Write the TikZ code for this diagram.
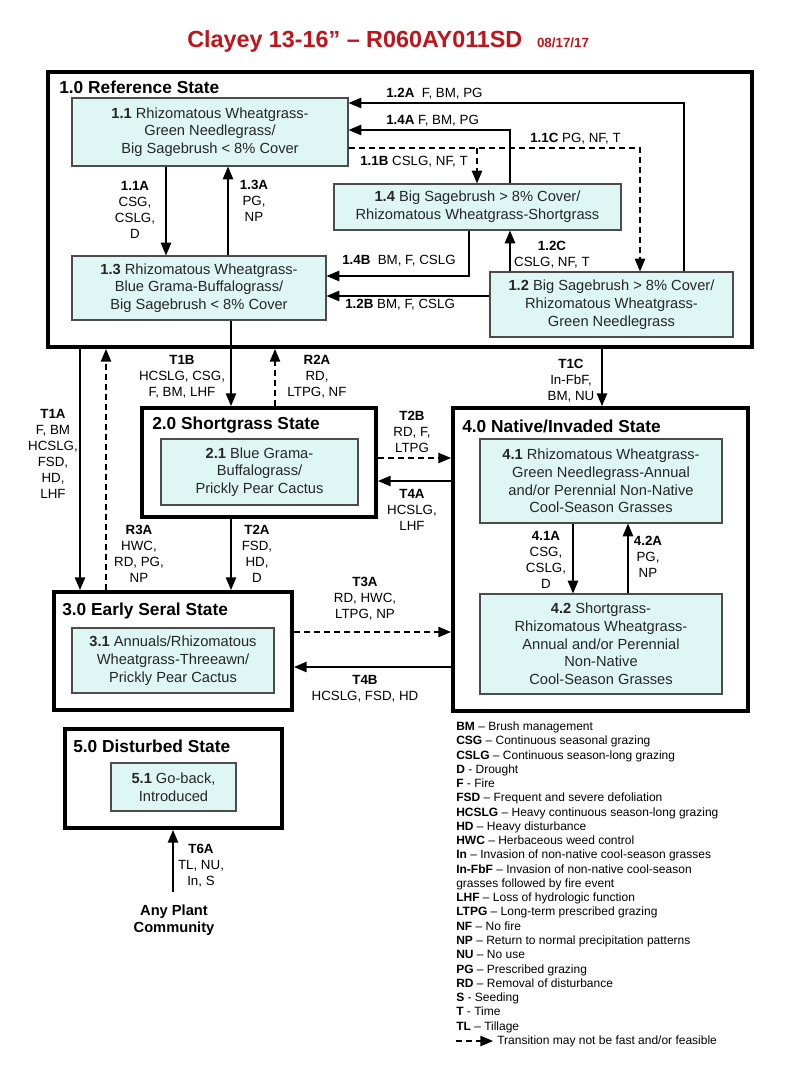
\documentclass[tikz,border=0pt]{standalone}
\usepackage{fontspec}
\setsansfont{Liberation Sans}
\usetikzlibrary{arrows}
\definecolor{commfill}{RGB}{222,247,244}
\definecolor{titlered}{RGB}{192,20,28}
\tikzset{every picture/.style={/utils/exec={\sffamily}}}
\tikzset{state/.style={draw,line width=3pt,inner sep=0pt}}
\tikzset{comm/.style={draw=black!70,fill=commfill,line width=0.9pt,align=center,inner sep=0pt,text=black!85,font=\fontsize{11}{13.3}\selectfont}}
\tikzset{statename/.style={anchor=west,inner sep=0pt,font=\fontsize{13}{15}\selectfont\bfseries}}
\tikzset{lab/.style={align=center,inner sep=0pt,font=\fontsize{10}{12}\selectfont}}
\tikzset{trans/.style={-triangle 45,line width=1.2pt}}
\tikzset{risky/.style={trans,dash pattern=on 4.5pt off 3pt}}

\begin{document}
\begin{tikzpicture}[x=0.75pt,y=-0.75pt]
    \fill[white] (0,0) rectangle (800,1067);
    \node[anchor=base west,inner sep=0pt,text=titlered,font=\bfseries] (head) at (187,47)
        {\fontsize{17.5}{20}\selectfont Clayey 13-16” – R060AY011SD\hspace{11pt}\fontsize{10}{12}\selectfont 08/17/17};
    % states
    \node[state,minimum width=528pt,minimum height=206.25pt] (S1) at (400,209.5) {};
    \node[state,minimum width=175.5pt,minimum height=81.75pt] (S2) at (259,462.5) {};
    \node[state,minimum width=178.5pt,minimum height=88.5pt] (S3) at (173,651) {};
    \node[state,minimum width=221.25pt,minimum height=227.25pt] (S4) at (600.5,559.5) {};
    \node[state,minimum width=162.75pt,minimum height=74.25pt] (S5) at (173.5,778.5) {};
    \node[statename] at (59,87) {1.0 Reference State};
    \node[statename] at (152,425) {2.0 Shortgrass State};
    \node[statename] at (62,611) {3.0 Early Seral State};
    \node[statename] at (462,426) {4.0 Native/Invaded State};
    \node[statename] at (73,746) {5.0 Disturbed State};
    % communities
    \node[comm,minimum width=207pt,minimum height=51pt] (s11) at (210,132)
        {\textbf{1.1} Rhizomatous Wheatgrass-\\Green Needlegrass/\\Big Sagebrush < 8\% Cover};
    \node[comm,minimum width=190.5pt,minimum height=48pt] (s13) at (199,288)
        {\textbf{1.3} Rhizomatous Wheatgrass-\\Blue Grama-Buffalograss/\\Big Sagebrush < 8\% Cover};
    \node[comm,minimum width=215.25pt,minimum height=34.5pt] (s14) at (477.5,207)
        {\textbf{1.4} Big Sagebrush > 8\% Cover/\\Rhizomatous Wheatgrass-Shortgrass};
    \node[comm,minimum width=182.25pt,minimum height=48.75pt] (s12) at (611.5,304.5)
        {\textbf{1.2} Big Sagebrush > 8\% Cover/\\Rhizomatous Wheatgrass-\\Green Needlegrass};
    \node[comm,minimum width=147.75pt,minimum height=49.5pt] (s21) at (259.5,472)
        {\textbf{2.1} Blue Grama-\\Buffalograss/\\Prickly Pear Cactus};
    \node[comm,minimum width=181.5pt,minimum height=63pt] (s41) at (601,481)
        {\textbf{4.1} Rhizomatous Wheatgrass-\\Green Needlegrass-Annual\\and/or Perennial Non-Native\\Cool-Season Grasses};
    \node[comm,minimum width=181.5pt,minimum height=75pt] (s42) at (601,644)
        {\textbf{4.2} Shortgrass-\\Rhizomatous Wheatgrass-\\Annual and/or Perennial\\Non-Native\\Cool-Season Grasses};
    \node[comm,minimum width=151.5pt,minimum height=48.75pt] (s31) at (173,660.5)
        {\textbf{3.1} Annuals/Rhizomatous\\Wheatgrass-Threeawn/\\Prickly Pear Cactus};
    \node[comm,minimum width=93.75pt,minimum height=36pt] (s51) at (173.5,787)
        {\textbf{5.1} Go-back,\\Introduced};
    \node[align=center,inner sep=0pt,font=\fontsize{11}{13}\selectfont\bfseries] (any) at (174,920) {Any Plant\\Community};
    % bend points
    \coordinate (k12A) at (684,103);
    \coordinate (k14A) at (510,130);
    \coordinate (k11C) at (640,148);
    \coordinate (k11B) at (477,148);
    \coordinate (k11A) at (166,200);
    \coordinate (k13A) at (228,200);
    \coordinate (k14B) at (469,276);
    \coordinate (k12B) at (480,296);
    \coordinate (kT1A) at (80,450);
    \coordinate (kR3A) at (106,450);
    \coordinate (kT1B) at (231,380);
    \coordinate (kR2A) at (275,380);
    \coordinate (kT1C) at (602,380);
    \coordinate (kT2B) at (410,458);
    \coordinate (kT4A) at (410,481);
    \coordinate (kT3A) at (370,632);
    \coordinate (kT4B) at (370,667);
    \coordinate (k41A) at (573,560);
    \coordinate (k42A) at (628,560);
    \coordinate (kT6A) at (173,892);
    % transitions in 1.0
    \draw[trans] (s12.north -| k12A) |- (s11.east |- k12A);
    \draw[trans] (s14.north -| k14A) |- (s11.east |- k14A);
    \draw[risky] (s11.east |- k11C) -| (s12.north -| k11C);
    \draw[risky] (k11B) -- (s14.north -| k11B);
    \draw[trans] (s11.south -| k11A) -- (s13.north -| k11A);
    \draw[trans] (s13.north -| k13A) -- (s11.south -| k13A);
    \draw[trans] (s14.south -| k14B) |- (s13.east |- k14B);
    \draw[trans] (s12.west |- k12B) -- (s13.east |- k12B);
    \draw[trans] (s12.north -| k14A) -- (s14.south -| k14A);
    \node[lab,anchor=west] at (386,94) {\textbf{1.2A}\ \ F, BM, PG};
    \node[lab,anchor=west] at (386,121) {\textbf{1.4A} F, BM, PG};
    \node[lab,anchor=west] at (530,139) {\textbf{1.1C} PG, NF, T};
    \node[lab,anchor=east] at (468,162) {\textbf{1.1B} CSLG, NF, T};
    \node[lab] at (135,209.5) {\textbf{1.1A}\\CSG,\\CSLG,\\D};
    \node[lab] at (254,201) {\textbf{1.3A}\\PG,\\NP};
    \node[lab,anchor=west] at (342,261) {\textbf{1.4B}\ \ BM, F, CSLG};
    \node[lab,anchor=west] at (345,305) {\textbf{1.2B} BM, F, CSLG};
    \node[lab] at (552,255) {\textbf{1.2C}\\CSLG, NF, T};
    % transitions between states
    \draw[trans] (S1.south -| kT1A) -- (S3.north -| kT1A);
    \draw[risky] (S3.north -| kR3A) -- (S1.south -| kR3A);
    \draw[trans] (s13.south -| kT1B) -- (S2.north -| kT1B);
    \draw[risky] (S2.north -| kR2A) -- (S1.south -| kR2A);
    \draw[trans] (S1.south -| kT1C) -- (S4.north -| kT1C);
    \draw[risky] (S2.east |- kT2B) -- (S4.west |- kT2B);
    \draw[trans] (S4.west |- kT4A) -- (S2.east |- kT4A);
    \draw[trans] (S2.south -| kT1B) -- (S3.north -| kT1B);
    \draw[risky] (S3.east |- kT3A) -- (S4.west |- kT3A);
    \draw[trans] (S4.west |- kT4B) -- (S3.east |- kT4B);
    \draw[trans] (s41.south -| k41A) -- (s42.north -| k41A);
    \draw[trans] (s42.north -| k42A) -- (s41.south -| k42A);
    \draw[trans] (kT6A) -- (S5.south -| kT6A);
    \node[lab] at (53,454) {\textbf{T1A}\\F, BM\\HCSLG,\\FSD,\\HD,\\LHF};
    \node[lab] at (139,554) {\textbf{R3A}\\HWC,\\RD, PG,\\NP};
    \node[lab] at (182,377) {\textbf{T1B}\\HCSLG, CSG,\\F, BM, LHF};
    \node[lab] at (317,377) {\textbf{R2A}\\RD,\\LTPG, NF};
    \node[lab] at (571,381) {\textbf{T1C}\\In-FbF,\\BM, NU};
    \node[lab] at (412,432) {\textbf{T2B}\\RD, F,\\LTPG};
    \node[lab] at (412,510) {\textbf{T4A}\\HCSLG,\\LHF};
    \node[lab] at (257,554) {\textbf{T2A}\\FSD,\\HD,\\D};
    \node[lab] at (365,599) {\textbf{T3A}\\RD, HWC,\\LTPG, NP};
    \node[lab] at (365,689) {\textbf{T4B}\\HCSLG, FSD, HD};
    \node[lab] at (546,560) {\textbf{4.1A}\\CSG,\\CSLG,\\D};
    \node[lab] at (648,557) {\textbf{4.2A}\\PG,\\NP};
    \node[lab] at (201,866) {\textbf{T6A}\\TL, NU,\\In, S};
    % key
    \node[anchor=north west,align=left,inner sep=0pt,font=\fontsize{9}{10.7}\selectfont] (key) at (456,721.5)
        {\textbf{BM} – Brush management\\
         \textbf{CSG} – Continuous seasonal grazing\\
         \textbf{CSLG} – Continuous season-long grazing\\
         \textbf{D} - Drought\\
         \textbf{F} - Fire\\
         \textbf{FSD} – Frequent and severe defoliation\\
         \textbf{HCSLG} – Heavy continuous season-long grazing\\
         \textbf{HD} – Heavy disturbance\\
         \textbf{HWC} – Herbaceous weed control\\
         \textbf{In} – Invasion of non-native cool-season grasses\\
         \textbf{In-FbF} – Invasion of non-native cool-season\\
         grasses followed by fire event\\
         \textbf{LHF} – Loss of hydrologic function\\
         \textbf{LTPG} – Long-term prescribed grazing\\
         \textbf{NF} – No fire\\
         \textbf{NP} – Return to normal precipitation patterns\\
         \textbf{NU} – No use\\
         \textbf{PG} – Prescribed grazing\\
         \textbf{RD} – Removal of disturbance\\
         \textbf{S} - Seeding\\
         \textbf{T} - Time\\
         \textbf{TL} – Tillage};
    \coordinate (keydash) at (456,1041);
    \node[anchor=west,inner sep=0pt,font=\fontsize{9}{10.7}\selectfont] (keytxt) at (497,1041) {Transition may not be fast and/or feasible};
    \draw[risky,shorten >=3pt] (keydash) -- (keytxt.west);
\end{tikzpicture}
\end{document}
